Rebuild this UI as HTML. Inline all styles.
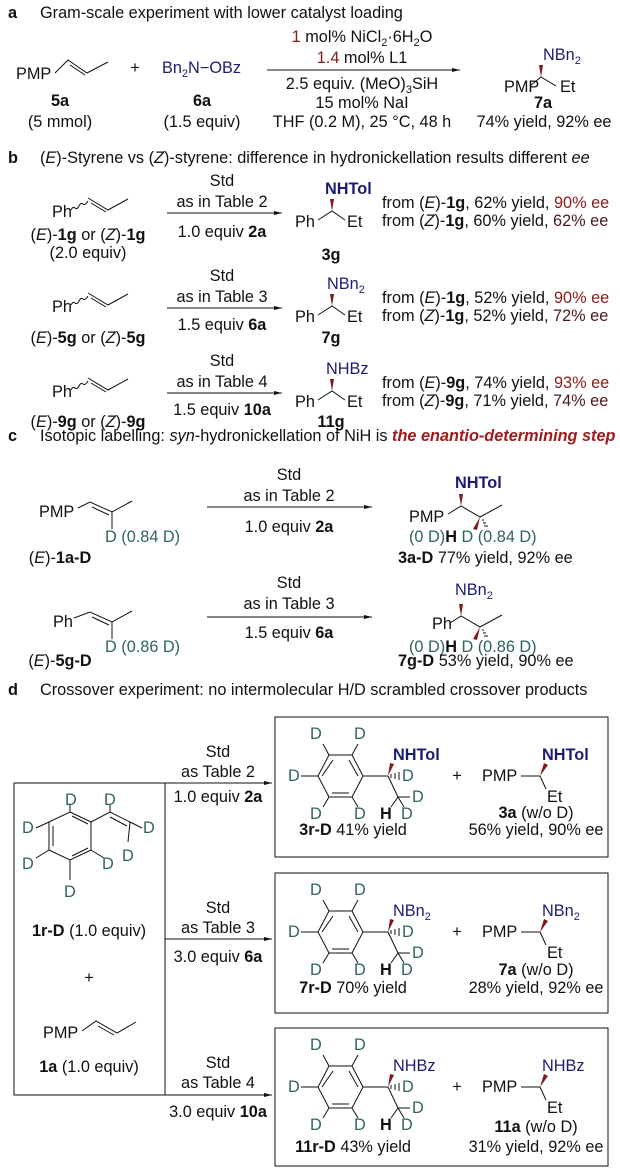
<!DOCTYPE html>
<html><head><meta charset="utf-8"><style>
html,body{margin:0;padding:0;background:#fff;}
svg{display:block;}
text{font-family:"Liberation Sans",Arial,sans-serif;font-size:16.3px;fill:#111;}
.b{font-weight:bold;}
.n{fill:#1c1c6e;}
.r{fill:#8b1a1a;}
.d{fill:#2f6262;}
.m{text-anchor:middle;}
line,path,polyline,polygon,rect{stroke:#111;stroke-width:1;fill:none;}
.w{fill:#7a1a1a;stroke:none;}
</style></head><body>
<svg width="620" height="1172" viewBox="0 0 620 1172" xmlns="http://www.w3.org/2000/svg">
<defs><marker id="ah" markerWidth="8" markerHeight="6" refX="8" refY="3" orient="auto"><path d="M0,1 L8,3 L0,5 Z" style="fill:#111;stroke:none"/></marker></defs>

<!-- a -->
<text x="8" y="18" class="b">a</text>
<text x="40" y="18">Gram-scale experiment with lower catalyst loading</text>
<text x="16" y="79">PMP</text>
<polyline points="55,73 68,60 87,73 108,62"/><line x1="70" y1="65" x2="85" y2="75"/>
<text x="135" y="73" class="m">+</text>
<text x="162" y="73" class="n">Bn<tspan font-size="11" dy="4" class="n">2</tspan><tspan dy="-4" class="n">N−OBz</tspan></text>
<text x="60" y="106" class="m b">5a</text><text x="60" y="127" class="m">(5 mmol)</text>
<text x="202" y="106" class="m b">6a</text><text x="202" y="127" class="m">(1.5 equiv)</text>
<line x1="267" y1="70" x2="460" y2="70" marker-end="url(#ah)"/>
<text x="362" y="42" class="m"><tspan class="r">1</tspan> mol% NiCl<tspan font-size="11" dy="4">2</tspan><tspan dy="-4">·6H</tspan><tspan font-size="11" dy="4">2</tspan><tspan dy="-4">O</tspan></text>
<text x="362" y="63" class="m"><tspan class="r">1.4</tspan> mol% L1</text>
<text x="362" y="89" class="m">2.5 equiv. (MeO)<tspan font-size="11" dy="4">3</tspan><tspan dy="-4">SiH</tspan></text>
<text x="362" y="108" class="m">15 mol% NaI</text>
<text x="362" y="127" class="m">THF (0.2 M), 25 °C, 48 h</text>
<text x="543" y="60" class="n">NBn<tspan font-size="11" dy="4" class="n">2</tspan></text>
<text x="504" y="92">PMP</text><text x="560" y="92">Et</text>
<polyline points="530,86 541,77 556,86"/><path class="w" d="M539,65 L543,65 L541,77 Z"/>
<text x="543" y="108" class="m b">7a</text><text x="544" y="127" class="m">74% yield, 92% ee</text>

<!-- b -->
<text x="8" y="163" class="b">b</text>
<text x="40" y="163">(<tspan font-style="italic">E</tspan>)-Styrene vs (<tspan font-style="italic">Z</tspan>)-styrene: difference in hydronickellation results different <tspan font-style="italic">ee</tspan></text>

<text x="52" y="217">Ph</text>
<path d="M71,210 q2,-4 4,-2 t4,-2 t4,-2 t5,-3"/><polyline points="88,198 108,210 128,199"/><line x1="91" y1="203" x2="106" y2="212"/>
<line x1="167" y1="213" x2="282" y2="213" marker-end="url(#ah)"/>
<text x="222" y="186" class="m">Std</text>
<text x="222" y="207" class="m">as in Table 2</text>
<text x="222" y="237" class="m">1.0 equiv <tspan class="b">2a</tspan></text>
<text x="88" y="240" class="m">(<tspan font-style="italic">E</tspan>)-<tspan class="b">1g</tspan> or (<tspan font-style="italic">Z</tspan>)-<tspan class="b">1g</tspan></text>
<text x="88" y="258" class="m">(2.0 equiv)</text>
<text x="325" y="194" class="n b">NHTol</text>
<text x="295" y="227">Ph</text><text x="347" y="227">Et</text>
<polyline points="318,220 332,211 345,220"/><path class="w" d="M330,199 L334,199 L332,211 Z"/>
<text x="331" y="260" class="m b">3g</text>
<text x="382" y="208">from (<tspan font-style="italic">E</tspan>)-<tspan class="b">1g</tspan>, 62% yield, <tspan class="r">90% ee</tspan></text>
<text x="382" y="226">from (<tspan font-style="italic">Z</tspan>)-<tspan class="b">1g</tspan>, 60% yield, <tspan style="fill:#4a1a1a">62% ee</tspan></text>

<g transform="translate(0,95)">
<text x="52" y="217">Ph</text>
<path d="M71,210 q2,-4 4,-2 t4,-2 t4,-2 t5,-3"/><polyline points="88,198 108,210 128,199"/><line x1="91" y1="203" x2="106" y2="212"/>
<line x1="167" y1="213" x2="282" y2="213" marker-end="url(#ah)"/>
<text x="222" y="186" class="m">Std</text>
<text x="222" y="207" class="m">as in Table 3</text>
<text x="222" y="235" class="m">1.5 equiv <tspan class="b">6a</tspan></text>
<text x="88" y="248" class="m">(<tspan font-style="italic">E</tspan>)-<tspan class="b">5g</tspan> or (<tspan font-style="italic">Z</tspan>)-<tspan class="b">5g</tspan></text>
<text x="327" y="194" class="n">NBn<tspan font-size="11" dy="4" class="n">2</tspan></text>
<text x="295" y="227">Ph</text><text x="347" y="227">Et</text>
<polyline points="318,220 332,211 345,220"/><path class="w" d="M330,199 L334,199 L332,211 Z"/>
<text x="331" y="248" class="m b">7g</text>
<text x="382" y="208">from (<tspan font-style="italic">E</tspan>)-<tspan class="b">1g</tspan>, 52% yield, <tspan class="r">90% ee</tspan></text>
<text x="382" y="226">from (<tspan font-style="italic">Z</tspan>)-<tspan class="b">1g</tspan>, 52% yield, <tspan style="fill:#4a1a1a">72% ee</tspan></text>
</g>

<g transform="translate(0,180)">
<text x="52" y="217">Ph</text>
<path d="M71,210 q2,-4 4,-2 t4,-2 t4,-2 t5,-3"/><polyline points="88,198 108,210 128,199"/><line x1="91" y1="203" x2="106" y2="212"/>
<line x1="167" y1="213" x2="282" y2="213" marker-end="url(#ah)"/>
<text x="222" y="186" class="m">Std</text>
<text x="222" y="207" class="m">as in Table 4</text>
<text x="222" y="235" class="m">1.5 equiv <tspan class="b">10a</tspan></text>
<text x="88" y="247" class="m">(<tspan font-style="italic">E</tspan>)-<tspan class="b">9g</tspan> or (<tspan font-style="italic">Z</tspan>)-<tspan class="b">9g</tspan></text>
<text x="326" y="194" class="n">NHBz</text>
<text x="295" y="227">Ph</text><text x="347" y="227">Et</text>
<polyline points="318,220 332,211 345,220"/><path class="w" d="M330,199 L334,199 L332,211 Z"/>
<text x="331" y="247" class="m b">11g</text>
<text x="382" y="208">from (<tspan font-style="italic">E</tspan>)-<tspan class="b">9g</tspan>, 74% yield, <tspan class="r">93% ee</tspan></text>
<text x="382" y="226">from (<tspan font-style="italic">Z</tspan>)-<tspan class="b">9g</tspan>, 71% yield, <tspan style="fill:#4a1a1a">74% ee</tspan></text>
</g>

<!-- c -->
<text x="8" y="441" class="b">c</text>
<text x="40" y="441">Isotopic labelling: <tspan font-style="italic">syn</tspan>-hydronickellation of NiH is <tspan font-style="italic" font-weight="bold" style="fill:#a01c1c">the enantio-determining step</tspan></text>

<g>
<text x="39" y="517">PMP</text>
<polyline points="78,508 90,502 112,512 132,501"/><line x1="92" y1="507" x2="109" y2="515"/><line x1="112" y1="512" x2="112" y2="529"/>
<text x="105" y="542" class="d">D (0.84 D)</text>
<text x="60" y="563" class="m">(<tspan font-style="italic">E</tspan>)-<tspan class="b">1a-D</tspan></text>
<line x1="207" y1="507" x2="372" y2="507" marker-end="url(#ah)"/>
<text x="289" y="480" class="m">Std</text>
<text x="289" y="501" class="m">as in Table 2</text>
<text x="289" y="532" class="m">1.0 equiv <tspan class="b">2a</tspan></text>
<text x="455" y="488" class="n b">NHTol</text>
<text x="409" y="522">PMP</text>
<polyline points="448,514 461,506 480,517 502,505"/><path class="w" d="M459,494 L463,494 L461,506 Z"/>
<path class="w" d="M480,517 L473,529 L477,530 Z"/>
<line x1="482" y1="520" x2="484" y2="520"/><line x1="483" y1="523" x2="486" y2="523"/><line x1="484" y1="526" x2="488" y2="526"/>
<text x="409" y="542"><tspan class="d">(0 D)</tspan><tspan class="b">H</tspan> <tspan class="d"> D (0.84 D)</tspan></text>
<text x="398" y="563"><tspan class="b">3a-D</tspan> 77% yield, 92% ee</text>
</g>
<g transform="translate(0,110)">
<text x="53" y="517">Ph</text>
<polyline points="74,508 90,502 112,512 132,501"/><line x1="92" y1="507" x2="109" y2="515"/><line x1="112" y1="512" x2="112" y2="529"/>
<text x="105" y="542" class="d">D (0.86 D)</text>
<text x="60" y="556" class="m">(<tspan font-style="italic">E</tspan>)-<tspan class="b">5g-D</tspan></text>
<line x1="207" y1="507" x2="372" y2="507" marker-end="url(#ah)"/>
<text x="289" y="478" class="m">Std</text>
<text x="289" y="499" class="m">as in Table 3</text>
<text x="289" y="528" class="m">1.5 equiv <tspan class="b">6a</tspan></text>
<text x="455" y="485" class="n">NBn<tspan font-size="11" dy="4" class="n">2</tspan></text>
<text x="432" y="519">Ph</text>
<polyline points="450,513 461,506 480,517 502,505"/><path class="w" d="M459,494 L463,494 L461,506 Z"/>
<path class="w" d="M480,517 L473,529 L477,530 Z"/>
<line x1="482" y1="520" x2="484" y2="520"/><line x1="483" y1="523" x2="486" y2="523"/><line x1="484" y1="526" x2="488" y2="526"/>
<text x="409" y="542"><tspan class="d">(0 D)</tspan><tspan class="b">H</tspan> <tspan class="d"> D (0.86 D)</tspan></text>
<text x="398" y="556"><tspan class="b">7g-D</tspan> 53% yield, 90% ee</text>
</g>

<!-- d -->
<text x="8" y="695" class="b">d</text>
<text x="40" y="695">Crossover experiment: no intermolecular H/D scrambled crossover products</text>

<rect x="14" y="783" width="151" height="312"/>
<line x1="165" y1="783" x2="272" y2="783" marker-end="url(#ah)"/>
<line x1="165" y1="939" x2="272" y2="939" marker-end="url(#ah)"/>
<line x1="165" y1="1095" x2="272" y2="1095" marker-end="url(#ah)"/>
<text x="218" y="757" class="m">Std</text><text x="218" y="777" class="m">as Table 2</text><text x="218" y="802" class="m">1.0 equiv <tspan class="b">2a</tspan></text>
<text x="218" y="913" class="m">Std</text><text x="218" y="933" class="m">as Table 3</text><text x="218" y="962" class="m">3.0 equiv <tspan class="b">6a</tspan></text>
<text x="218" y="1068" class="m">Std</text><text x="218" y="1088" class="m">as Table 4</text><text x="218" y="1117" class="m">3.0 equiv <tspan class="b">10a</tspan></text>

<polygon points="70,812 91,822 91,850 70,860 49,850 49,822"/>
<line x1="53" y1="826" x2="53" y2="846"/><line x1="72" y1="856" x2="88" y2="848"/><line x1="72" y1="816" x2="88" y2="824"/>
<line x1="70" y1="812" x2="70" y2="805"/><line x1="49" y1="822" x2="36" y2="828"/><line x1="49" y1="850" x2="36" y2="858"/>
<line x1="70" y1="860" x2="70" y2="880"/><line x1="91" y1="850" x2="104" y2="858"/>
<polyline points="91,822 110,812 130,822"/><line x1="110" y1="817" x2="127" y2="826"/>
<line x1="110" y1="812" x2="110" y2="805"/><line x1="130" y1="822" x2="142" y2="828"/><line x1="130" y1="822" x2="128" y2="842"/>
<text x="65" y="805" class="d">D</text><text x="104" y="805" class="d">D</text>
<text x="22" y="833" class="d">D</text><text x="143" y="833" class="d">D</text>
<text x="122" y="861" class="d">D</text><text x="22" y="869" class="d">D</text><text x="102" y="869" class="d">D</text>
<text x="64" y="897" class="d">D</text>
<text x="89" y="936" class="m"><tspan class="b">1r-D</tspan> (1.0 equiv)</text>
<text x="89" y="983" class="m">+</text>
<text x="43" y="1038">PMP</text>
<polyline points="82,1031 96,1021 117,1033 136,1022"/><line x1="98" y1="1026" x2="114" y2="1035"/>
<text x="89" y="1072" class="m"><tspan class="b">1a</tspan> (1.0 equiv)</text>

<g transform="translate(0,717)">
<rect x="275" y="0" width="333" height="140"/>
<polygon points="329,38 352,38 363,59 352,80 329,80 318,59"/>
<line x1="333" y1="43" x2="322" y2="59"/><line x1="332" y1="76" x2="349" y2="76"/><line x1="349" y1="43" x2="358" y2="59"/>
<line x1="329" y1="38" x2="323" y2="27"/><line x1="352" y1="38" x2="358" y2="27"/>
<line x1="318" y1="59" x2="301" y2="59"/>
<line x1="329" y1="80" x2="323" y2="90"/><line x1="352" y1="80" x2="358" y2="90"/>
<line x1="363" y1="59" x2="388" y2="59"/>
<path class="w" d="M388,59 L390,46 L394,47 Z"/>
<line x1="391" y1="57" x2="391" y2="61"/><line x1="395" y1="56" x2="395" y2="62"/><line x1="399" y1="55" x2="399" y2="63"/>
<line x1="388" y1="59" x2="398" y2="80"/><line x1="398" y1="80" x2="410" y2="80"/><line x1="398" y1="80" x2="404" y2="90"/><line x1="398" y1="80" x2="391" y2="90"/>
<text x="310" y="22" class="d">D</text><text x="354" y="22" class="d">D</text>
<text x="288" y="64" class="d">D</text><text x="402" y="64" class="d">D</text><text x="412" y="85" class="d">D</text>
<text x="310" y="102" class="d">D</text><text x="354" y="102" class="d">D</text><text x="380" y="102" class="b">H</text><text x="401" y="102" class="d">D</text>
<text x="457" y="64" class="m">+</text>
<text x="482" y="64">PMP</text>
<line x1="521" y1="59" x2="540" y2="59"/><line x1="540" y1="59" x2="546" y2="72"/>
<path class="w" d="M540,59 L544,46 L548,48 Z"/>
<text x="547" y="85">Et</text>
<text x="393" y="43" class="n b">NHTol</text><text x="542" y="43" class="n b">NHTol</text>
<text x="353" y="118" class="m"><tspan class="b">3r-D</tspan> 41% yield</text>
<text x="536" y="101" class="m"><tspan class="b">3a</tspan> (w/o D)</text><text x="536" y="118" class="m">56% yield, 90% ee</text>
</g>

<g transform="translate(0,873)">
<rect x="275" y="0" width="333" height="140"/>
<polygon points="329,38 352,38 363,59 352,80 329,80 318,59"/>
<line x1="333" y1="43" x2="322" y2="59"/><line x1="332" y1="76" x2="349" y2="76"/><line x1="349" y1="43" x2="358" y2="59"/>
<line x1="329" y1="38" x2="323" y2="27"/><line x1="352" y1="38" x2="358" y2="27"/>
<line x1="318" y1="59" x2="301" y2="59"/>
<line x1="329" y1="80" x2="323" y2="90"/><line x1="352" y1="80" x2="358" y2="90"/>
<line x1="363" y1="59" x2="388" y2="59"/>
<path class="w" d="M388,59 L390,46 L394,47 Z"/>
<line x1="391" y1="57" x2="391" y2="61"/><line x1="395" y1="56" x2="395" y2="62"/><line x1="399" y1="55" x2="399" y2="63"/>
<line x1="388" y1="59" x2="398" y2="80"/><line x1="398" y1="80" x2="410" y2="80"/><line x1="398" y1="80" x2="404" y2="90"/><line x1="398" y1="80" x2="391" y2="90"/>
<text x="310" y="22" class="d">D</text><text x="354" y="22" class="d">D</text>
<text x="288" y="64" class="d">D</text><text x="402" y="64" class="d">D</text><text x="412" y="85" class="d">D</text>
<text x="310" y="102" class="d">D</text><text x="354" y="102" class="d">D</text><text x="380" y="102" class="b">H</text><text x="401" y="102" class="d">D</text>
<text x="457" y="64" class="m">+</text>
<text x="482" y="64">PMP</text>
<line x1="521" y1="59" x2="540" y2="59"/><line x1="540" y1="59" x2="546" y2="72"/>
<path class="w" d="M540,59 L544,46 L548,48 Z"/>
<text x="547" y="85">Et</text>
<text x="393" y="43" class="n">NBn<tspan font-size="11" dy="4" class="n">2</tspan></text>
<text x="542" y="43" class="n">NBn<tspan font-size="11" dy="4" class="n">2</tspan></text>
<text x="353" y="120" class="m"><tspan class="b">7r-D</tspan> 70% yield</text>
<text x="536" y="102" class="m"><tspan class="b">7a</tspan> (w/o D)</text><text x="536" y="120" class="m">28% yield, 92% ee</text>
</g>

<g transform="translate(0,1028)">
<rect x="275" y="0" width="333" height="138"/>
<polygon points="329,38 352,38 363,59 352,80 329,80 318,59"/>
<line x1="333" y1="43" x2="322" y2="59"/><line x1="332" y1="76" x2="349" y2="76"/><line x1="349" y1="43" x2="358" y2="59"/>
<line x1="329" y1="38" x2="323" y2="27"/><line x1="352" y1="38" x2="358" y2="27"/>
<line x1="318" y1="59" x2="301" y2="59"/>
<line x1="329" y1="80" x2="323" y2="90"/><line x1="352" y1="80" x2="358" y2="90"/>
<line x1="363" y1="59" x2="388" y2="59"/>
<path class="w" d="M388,59 L390,46 L394,47 Z"/>
<line x1="391" y1="57" x2="391" y2="61"/><line x1="395" y1="56" x2="395" y2="62"/><line x1="399" y1="55" x2="399" y2="63"/>
<line x1="388" y1="59" x2="398" y2="80"/><line x1="398" y1="80" x2="410" y2="80"/><line x1="398" y1="80" x2="404" y2="90"/><line x1="398" y1="80" x2="391" y2="90"/>
<text x="310" y="22" class="d">D</text><text x="354" y="22" class="d">D</text>
<text x="288" y="64" class="d">D</text><text x="402" y="64" class="d">D</text><text x="412" y="85" class="d">D</text>
<text x="310" y="102" class="d">D</text><text x="354" y="102" class="d">D</text><text x="380" y="102" class="b">H</text><text x="401" y="102" class="d">D</text>
<text x="457" y="64" class="m">+</text>
<text x="482" y="64">PMP</text>
<line x1="521" y1="59" x2="540" y2="59"/><line x1="540" y1="59" x2="546" y2="72"/>
<path class="w" d="M540,59 L544,46 L548,48 Z"/>
<text x="547" y="85">Et</text>
<text x="393" y="43" class="n">NHBz</text>
<text x="542" y="43" class="n">NHBz</text>
<text x="353" y="124" class="m"><tspan class="b">11r-D</tspan> 43% yield</text>
<text x="536" y="104" class="m"><tspan class="b">11a</tspan> (w/o D)</text><text x="536" y="124" class="m">31% yield, 92% ee</text>
</g>
</svg>
</body></html>
